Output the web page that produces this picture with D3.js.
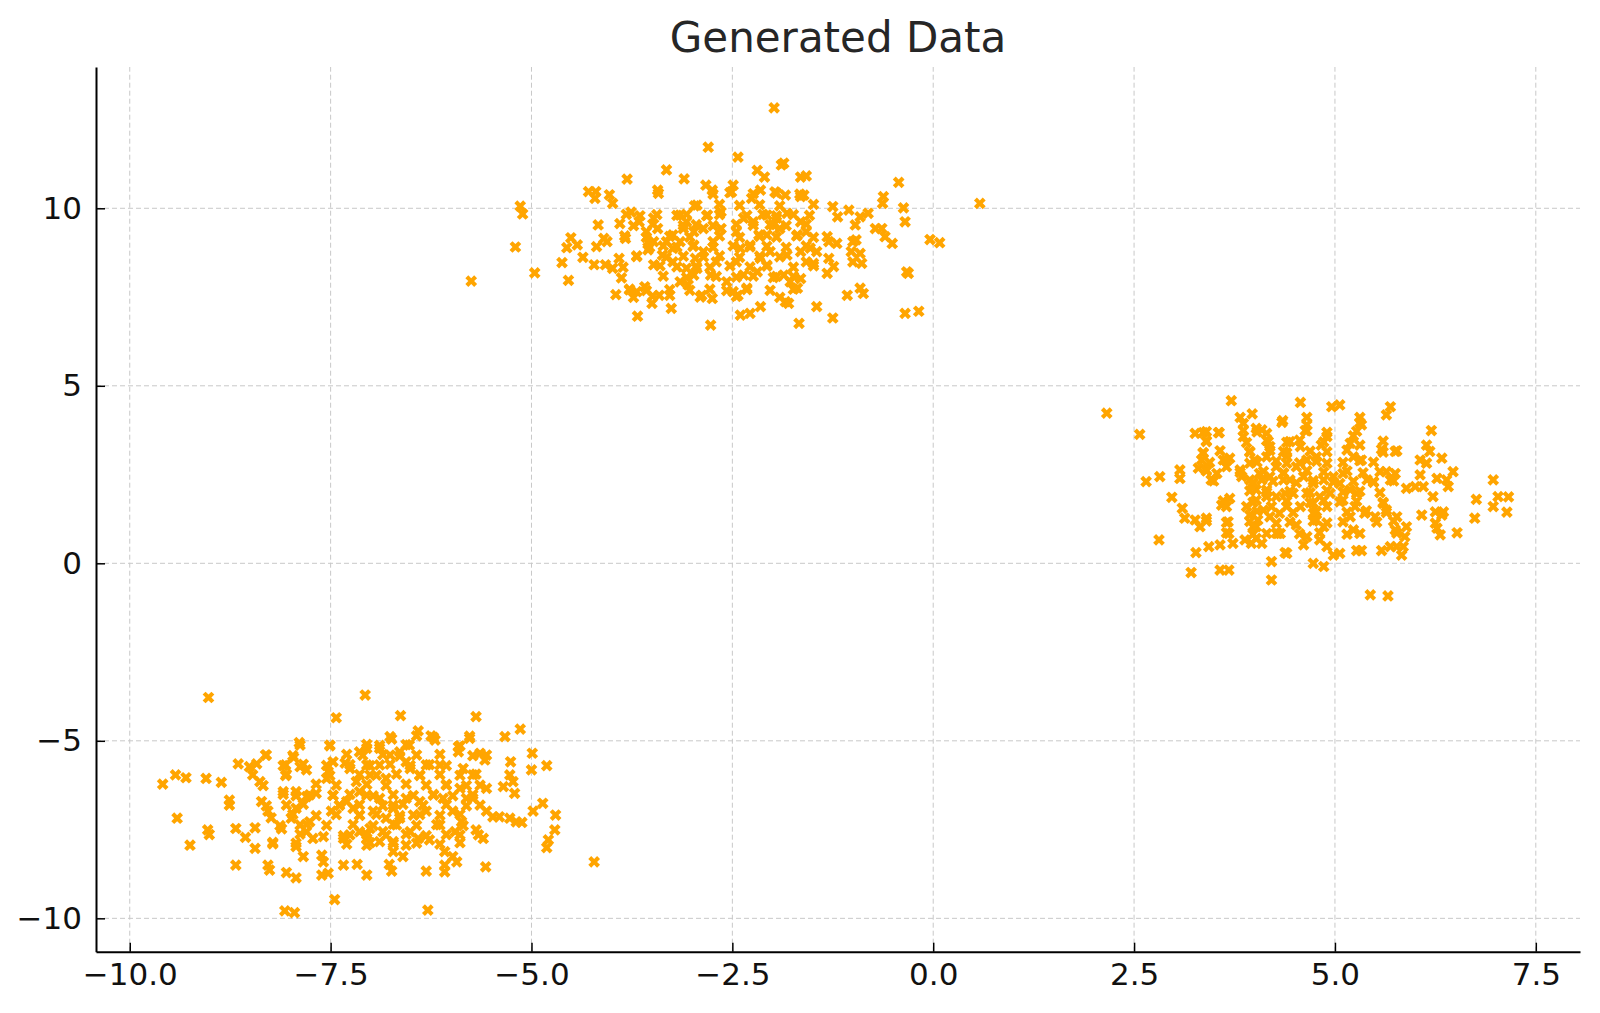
<!DOCTYPE html>
<html>
<head>
<meta charset="utf-8">
<script src="https://cdn.jsdelivr.net/npm/d3@7"></script>
<style>
  body { margin: 0; background: #fff; }
  text { font-family: 'DejaVu Sans', sans-serif; }
</style>
</head>
<body>
<svg id="chart"></svg>
<script>
// points, one list per blob: [x, y]
const clusterTop = [
  [-5.75,7.95],[-5.20,8.91],[-5.14,10.06],[-5.11,9.84],[-4.96,8.18],[-4.62,8.47],[-4.54,7.97],[-4.56,8.89],[-4.51,9.17],[-4.43,8.97],
  [-4.36,8.62],[-4.29,10.47],[-4.20,10.47],[-4.21,10.28],[-4.03,10.38],[-3.99,10.14],[-3.81,10.82],[-3.43,10.51],[-3.32,11.08],[-3.10,10.83],
  [-4.17,9.53],[-4.19,8.92],[-4.10,9.15],[-4.06,9.06],[-4.22,8.41],[-4.08,8.41],[-3.99,8.31],[-3.91,8.59],[-3.88,8.04],[-3.95,7.57],
  [-3.83,9.15],[-3.90,9.57],[-3.76,9.89],[-3.66,9.62],[-3.78,7.70],[-3.69,7.65],[-3.59,7.79],[-3.50,7.32],[-3.69,8.64],[-3.55,8.83],
  [-3.48,8.41],[-3.68,6.96],[-3.48,9.72],[-3.43,9.43],[-3.57,9.34],[-3.41,7.55],[-3.28,7.55],[-3.26,7.18],[-3.32,9.06],[-3.24,8.87],
  [-3.15,9.06],[-3.24,8.49],[-3.37,8.68],[-3.15,9.81],[-3.07,9.62],[-2.98,9.34],[-2.94,10.09],[-3.15,7.93],[-3.05,7.84],[-3.07,8.31],
  [-2.96,8.59],[-2.88,7.55],[-2.83,10.65],[-2.80,11.72],[-3.48,9.06],[-3.24,9.25],[-2.98,8.96],[-2.94,8.31],[-2.98,8.12],[-2.86,8.78],
  [-2.86,9.43],[-3.11,9.43],[-3.55,9.06],
  [-1.98,12.83],[-2.43,11.44],[-1.89,11.22],[-1.86,11.27],[-2.19,11.07],[-2.10,10.88],[-1.65,10.88],[-1.58,10.91],[-2.75,10.51],[-2.49,10.65],
  [-2.51,10.46],[-2.15,10.51],[-1.97,10.46],[-1.84,10.37],[-1.65,10.33],[-1.61,10.37],[-2.26,10.28],[-0.43,10.73],[-0.62,10.33],[-0.63,10.14],
  [-0.37,10.01],[-0.35,9.62],[-0.04,9.12],[0.08,9.03],[-1.05,9.95],[-0.91,9.76],[-0.81,9.86],[-0.97,9.53],[-0.72,9.43],[-0.64,9.43],
  [-0.60,9.20],[-0.51,9.01],[-1.25,10.05],[-1.19,9.76],[-1.00,9.06],[-0.96,9.11],[-1.02,8.78],[-0.91,8.73],[-1.00,8.49],[-0.89,8.45],
  [-1.32,9.20],[-1.20,9.01],[-1.30,9.06],[-1.30,8.59],[-1.24,8.36],[-1.32,8.17],[-0.33,8.21],[-0.31,8.17],[-1.07,7.55],[-0.87,7.60],
  [-0.91,7.75],[-0.35,7.04],[-0.18,7.10],[-1.25,6.91],[-1.45,7.23],[-1.67,6.76],[-1.84,7.37],[-1.80,7.32],[-2.40,6.99],[-2.28,7.04],
  [-2.15,7.23],[-2.77,6.71],[-2.75,7.46],[-2.43,7.55],[-1.49,8.45],[-1.58,8.49],[-1.45,8.78],[-1.78,7.93],[-1.65,8.02],[-1.69,7.75],
  [-1.95,8.08],[-1.86,8.12],[-1.82,8.68],[-1.65,8.78],[-1.53,8.88],[-1.69,9.25],[-1.58,9.34],[-1.65,9.62],[-1.91,9.43],[-1.95,9.72],
  [-1.82,9.86],[-2.24,9.62],[-2.17,9.25],[-2.28,8.96],[-2.15,8.59],[-2.19,8.21],[-2.36,8.12],[-2.45,8.49],[-2.40,8.87],[-2.45,9.34],
  [-2.36,9.72],[-2.64,9.43],[-2.74,9.06],[-2.70,8.49],[-2.77,8.12],[-2.57,7.93],[-2.49,7.65],[-2.07,9.25],[-2.03,8.78],[-2.07,8.40],
  [-2.32,7.75],[-2.64,9.90],[-2.81,9.81],[-2.07,9.81],[-1.99,9.53],[0.58,10.14]
];

// the solid middle of the top blob
const clusterTopCore = [
  [-3.42,10.42],[-2.74,10.40],[-2.53,10.44],[-2.24,10.41],[-1.95,10.43],[-1.66,10.40],
  [-2.97,10.07],[-2.66,10.11],[-2.41,10.08],[-2.16,10.10],[-1.91,10.07],[-1.49,10.11],
  [-3.82,9.83],[-3.65,9.79],[-3.44,9.82],[-3.19,9.80],[-3.07,9.83],[-2.82,9.79],[-2.66,9.82],[-2.32,9.80],[-2.12,9.83],[-1.95,9.79],[-1.74,9.82],[-1.54,9.80],
  [-3.73,9.51],[-3.49,9.55],[-3.11,9.52],[-2.95,9.54],[-2.74,9.51],[-2.45,9.55],[-2.24,9.52],[-2.03,9.54],[-1.83,9.51],[-1.58,9.55],
  [-3.84,9.22],[-3.57,9.18],[-3.28,9.21],[-3.03,9.19],[-2.66,9.22],[-2.41,9.18],[-2.16,9.21],[-1.95,9.19],[-1.70,9.22],[-1.49,9.18],
  [-3.53,8.90],[-3.36,8.94],[-3.19,8.91],[-2.99,8.93],[-2.74,8.90],[-2.49,8.94],[-2.28,8.91],[-2.07,8.93],[-1.83,8.90],[-1.58,8.94],
  [-3.69,8.66],[-3.32,8.62],[-3.11,8.65],[-2.86,8.63],[-2.66,8.66],[-2.41,8.62],[-2.16,8.65],[-1.91,8.63],
  [-3.86,8.34],[-3.40,8.38],[-3.19,8.35],[-2.95,8.37],[-2.78,8.34],[-2.53,8.38],[-2.28,8.35],[-2.07,8.37],[-1.74,8.34],[-1.49,8.38],
  [-3.36,8.09],[-3.07,8.05],[-2.70,8.08],[-2.45,8.06],[-2.24,8.09],[-1.99,8.05],[-1.74,8.08],
  [-3.78,7.72],[-3.57,7.68],[-3.28,7.71],[-3.03,7.69],[-2.78,7.72],[-2.57,7.68],[-2.32,7.71],[-2.03,7.69],[-1.74,7.72],
  [-3.73,7.49],[-3.49,7.53],[-2.90,7.50],[-2.45,7.52],[-1.91,7.49]
];

const clusterRight = [
  [2.16,4.23],[2.57,3.63],[2.65,2.30],[2.82,2.44],[2.81,0.66],[2.97,1.86],[3.07,2.63],[3.07,2.39],[3.10,1.55],[3.13,1.27],
  [3.21,-0.26],[3.27,0.30],[3.26,3.66],[3.36,3.68],[3.40,3.43],[3.36,3.10],[3.34,2.91],[3.30,2.68],[3.40,2.63],[3.46,2.35],
  [3.53,2.53],[3.26,1.22],[3.32,1.03],[3.40,1.27],[3.43,0.47],[3.57,0.52],[3.56,3.68],[3.57,-0.19],[3.68,-0.19],[3.61,2.91],
  [3.69,2.96],[3.65,2.72],[3.59,1.64],[3.69,1.83],[3.65,1.60],[3.67,1.17],[3.68,0.84],[3.73,0.56],[3.71,4.58],[3.82,4.11],
  [3.97,4.21],[3.86,3.57],[3.82,2.63],[3.84,2.44],[3.94,3.15],[4.00,2.91],[3.94,2.82],[4.02,3.80],[4.09,3.76],[4.17,3.43],
  [4.19,3.29],[4.15,3.00],[3.88,0.66],[3.96,0.56],[4.02,0.70],[4.09,0.56],[3.90,1.60],[3.94,1.36],[3.98,1.03],[4.04,1.22],
  [4.02,2.07],[4.09,2.35],[4.15,1.88],[4.11,1.50],[4.21,1.60],[4.21,0.05],[4.21,-0.47],[4.29,0.84],[4.35,4.02],[4.36,3.15],
  [4.40,2.82],[4.36,2.35],[4.38,1.97],[4.38,0.30],[3.94,2.35],[4.06,2.53],[4.19,2.44],[4.27,2.72],[4.36,2.53],[4.02,1.78],
  [4.15,2.07],[4.27,1.88],[4.19,1.31],[4.31,1.41],[4.02,1.03],[4.15,0.84],[4.27,1.13],[3.98,2.25],
  [4.57,4.53],[4.96,4.41],[5.06,4.46],[4.65,4.11],[4.63,3.74],[5.69,4.41],[5.64,4.18],[5.31,4.11],[5.33,3.90],[5.23,3.59],
  [6.20,3.74],[5.31,3.33],[4.90,3.57],[4.83,3.33],[4.44,3.43],[4.57,3.29],[5.58,3.21],[5.75,3.15],[6.14,3.33],[6.18,3.15],
  [6.33,2.96],[6.06,2.91],[6.14,2.82],[5.33,2.91],[5.23,3.00],[6.47,2.58],[6.06,2.49],[6.27,2.39],[6.39,2.35],[6.97,2.35],
  [5.56,2.58],[5.75,2.53],[5.69,2.35],[5.40,2.35],[5.48,2.30],[5.89,2.11],[6.00,2.16],[6.10,2.16],[6.41,2.16],[6.22,1.88],
  [6.76,1.80],[6.97,1.60],[7.03,1.88],[6.74,1.27],[6.08,1.36],[6.25,1.45],[6.35,1.45],[6.33,1.36],[6.25,1.13],[6.27,0.99],
  [6.31,0.80],[6.52,0.86],[5.37,1.41],[5.50,1.31],[5.60,1.69],[5.64,1.50],[5.77,1.31],[5.75,0.94],[5.89,1.03],[5.87,0.75],
  [5.77,0.47],[5.85,0.47],[5.83,0.23],[5.58,0.36],[5.69,0.47],[5.27,0.36],[5.33,0.36],[5.23,0.94],[5.31,0.84],[5.19,1.31],
  [5.25,1.60],[5.06,0.28],[4.98,0.23],[4.40,0.28],[4.73,0.00],[4.86,-0.09],[4.61,0.52],[4.65,0.75],[4.81,0.66],[4.90,0.47],
  [5.44,-0.89],[5.66,-0.92],[4.52,1.08],[4.32,0.84],[4.77,1.22],[4.86,1.03],[4.73,1.41],
  [4.40,3.00],[4.52,2.72],[4.65,2.91],[4.77,3.00],[4.90,2.82],[4.44,2.35],[4.61,2.44],[4.73,2.25],[4.86,2.35],[4.98,2.44],
  [4.48,1.97],[4.65,1.97],[4.81,1.88],[4.94,1.97],[4.40,1.60],[4.57,1.60],[4.73,1.69],[4.90,1.60],[5.10,2.53],[5.19,2.07],
  [5.10,1.78],[5.27,1.97],[5.06,2.25],[7.16,1.87],[7.14,1.44]
];

const clusterRightCore = [
  [3.86,3.94],[4.34,3.97],[4.65,3.90],[5.31,3.96],
  [3.40,3.71],[3.55,3.68],[3.86,3.74],[4.03,3.70],[4.15,3.66],[4.65,3.73],[4.90,3.69],[5.27,3.72],
  [3.40,3.45],[3.90,3.40],[4.15,3.46],[4.40,3.41],[4.56,3.47],[4.86,3.42],[5.19,3.38],[5.60,3.44],
  [3.36,3.12],[3.57,3.17],[3.94,3.13],[4.19,3.18],[4.40,3.11],[4.69,3.16],[4.90,3.14],[5.15,3.19],[5.60,3.13],[5.77,3.17],
  [3.44,2.84],[3.65,2.89],[4.03,2.85],[4.27,2.88],[4.56,2.83],[4.77,2.87],[5.10,2.84],[5.31,2.89],[5.48,2.85],
  [3.40,2.60],[3.82,2.56],[4.11,2.59],[4.36,2.55],[4.65,2.61],[4.86,2.57],[5.15,2.60],[5.35,2.55],[5.64,2.58],
  [3.49,2.32],[3.98,2.28],[4.23,2.31],[4.52,2.27],[4.73,2.33],[4.98,2.29],[5.23,2.31],[5.48,2.28],[5.73,2.32],
  [3.94,2.04],[4.15,2.00],[4.44,2.03],[4.69,1.99],[4.90,2.05],[5.10,2.01],[5.31,2.03],[5.56,1.99],
  [3.61,1.76],[3.98,1.72],[4.40,1.75],[4.69,1.71],[4.86,1.77],[5.06,1.73],[5.27,1.75],[5.60,1.72],
  [4.03,1.47],[4.48,1.43],[4.77,1.46],[5.15,1.44],[5.39,1.48],[5.64,1.43],
  [3.40,1.19],[3.65,1.15],[3.94,1.18],[4.44,1.16],[4.73,1.19],[4.90,1.14],[5.10,1.17],[5.52,1.16],[5.73,1.19],
  [3.65,0.86],[3.98,0.82],[4.27,0.85],[4.56,0.83],[4.81,0.86],[5.15,0.82],[5.77,0.85]
];

const clusterLeft = [
  [-9.02,-3.78],[-7.07,-3.71],[-7.43,-4.35],[-7.89,-5.05],[-7.51,-5.12],[-8.65,-5.65],[-8.51,-5.73],[-8.42,-5.65],[-8.31,-5.40],[-8.47,-5.96],
  [-8.38,-6.15],[-9.59,-6.22],[-9.43,-5.96],[-9.30,-6.04],[-9.05,-6.06],[-8.86,-6.17],[-8.76,-6.67],[-8.76,-6.81],[-9.41,-7.18],[-9.25,-7.94],
  [-9.03,-7.51],[-9.01,-7.64],[-8.68,-7.47],[-8.56,-7.72],[-8.44,-7.45],[-8.44,-8.03],[-8.68,-8.50],[-8.36,-6.71],[-8.28,-6.98],[-8.24,-7.17],
  [-8.22,-7.86],[-8.28,-8.50],[-8.26,-8.64],[-8.05,-8.71],[-7.93,-8.86],[-8.11,-7.48],[-7.93,-7.98],[-7.84,-8.26],[-7.61,-8.22],[-7.59,-8.41],
  [-7.61,-8.78],[-7.53,-8.73],[-7.45,-9.47],[-7.96,-5.47],[-8.06,-5.68],[-8.06,-5.98],[-7.88,-5.73],[-7.80,-5.82],[-8.09,-6.43],[-7.93,-6.43],
  [-7.80,-6.57],[-7.68,-6.48],[-8.05,-6.81],[-7.93,-6.90],[-7.99,-7.18],[-7.88,-7.37],[-7.76,-7.28],[-7.80,-7.56],[-7.72,-7.75],[-7.59,-7.70],
  [-7.53,-5.87],[-7.47,-5.59],[-7.55,-6.06],[-7.32,-5.63],[-7.26,-5.78],[-7.18,-6.15],[-7.47,-6.53],[-7.39,-6.81],[-7.49,-6.98],[-7.30,-6.71],
  [-7.22,-6.90],[-7.14,-7.09],[-7.34,-7.75],[-7.26,-7.65],[-7.14,-7.56],[-7.05,-7.75],[-7.34,-8.50],[-7.17,-8.48],[-7.14,-5.31],[-7.05,-5.21],
  [-7.05,-5.68],[-7.14,-6.43],[-7.05,-6.53],[-7.05,-8.78],
  [-6.63,-4.29],[-5.69,-4.32],[-6.41,-4.72],[-6.25,-4.86],[-6.20,-4.98],[-6.74,-4.95],[-6.52,-5.12],[-5.91,-5.17],[-5.91,-5.31],[-5.77,-4.93],
  [-5.33,-4.88],[-5.14,-4.67],[-5.64,-5.35],[-5.56,-5.40],[-5.58,-5.54],[-5.26,-5.59],[-4.99,-5.35],[-5.00,-5.82],[-4.81,-5.70],[-5.85,-5.78],
  [-5.73,-5.96],[-5.27,-5.96],[-5.23,-6.15],[-5.35,-6.29],[-5.21,-6.48],[-5.64,-6.25],[-5.56,-6.34],[-4.86,-6.76],[-4.98,-6.98],[-4.70,-7.09],
  [-4.71,-7.51],[-4.79,-7.79],[-4.81,-8.01],[-4.22,-8.41],[-5.19,-7.28],[-5.12,-7.30],[-5.27,-7.18],[-5.40,-7.14],[-5.48,-7.14],[-5.69,-7.51],
  [-5.60,-7.75],[-5.66,-7.65],[-5.56,-6.98],[-5.64,-6.81],[-5.73,-6.62],[-5.87,-7.28],[-5.95,-7.56],[-5.89,-7.65],[-5.98,-6.98],[-6.08,-8.12],
  [-5.98,-8.26],[-5.93,-8.41],[-6.08,-8.50],[-6.08,-8.69],[-5.57,-8.55],[-6.31,-8.67],[-6.77,-8.48],[-6.74,-8.67],[-6.60,-8.26],[-6.72,-8.12],
  [-6.41,-7.75],[-6.27,-7.79],[-6.14,-7.37],[-6.10,-6.62],[-6.06,-6.25],[-5.89,-6.34],[-5.81,-6.62],[-6.14,-5.68],[-6.31,-5.68],[-6.39,-5.96],
  [-6.51,-5.78],[-6.89,-5.21],[-6.76,-5.40],[-6.64,-5.31],[-6.56,-5.59],[-6.89,-5.68],[-7.01,-5.96],[-6.81,-6.06],
  [-6.89,-6.62],[-6.72,-6.81],[-6.56,-6.62],[-6.39,-6.71],[-6.22,-6.53],[-6.97,-6.98],[-6.81,-7.18],[-6.64,-7.18],[-6.47,-7.09],[-6.31,-6.98],
  [-7.01,-7.47],[-6.85,-7.56],[-6.68,-7.37],[-6.51,-7.56],[-7.05,-7.94],[-6.89,-7.84],[-6.72,-7.84],[-6.56,-7.94],[-6.72,-6.90],
  [-6.29,-9.77],[-8.07,-9.79],[-7.95,-9.84]
];

const clusterLeftCore = [
  [-6.76,-4.88],[-6.43,-4.86],[-6.22,-4.90],[-5.77,-4.87],
  [-7.88,-5.12],[-7.51,-5.14],[-7.05,-5.10],[-6.89,-5.13],[-6.56,-5.11],[-5.89,-5.14],
  [-8.30,-5.40],[-7.97,-5.42],[-7.30,-5.38],[-7.10,-5.41],[-6.85,-5.39],[-6.64,-5.43],[-6.43,-5.40],[-6.14,-5.38],[-5.73,-5.42],
  [-8.09,-5.70],[-7.84,-5.66],[-7.55,-5.69],[-7.26,-5.67],[-7.01,-5.70],[-6.76,-5.66],[-6.51,-5.69],[-6.27,-5.67],[-6.06,-5.70],
  [-8.05,-5.94],[-7.51,-5.98],[-7.14,-5.95],[-6.93,-5.97],[-6.68,-5.94],[-6.39,-5.98],[-6.14,-5.95],[-5.89,-5.97],[-5.69,-5.94],
  [-8.34,-6.26],[-7.68,-6.22],[-7.43,-6.25],[-7.05,-6.23],[-6.81,-6.26],[-6.56,-6.22],[-6.31,-6.25],[-6.06,-6.23],[-5.81,-6.26],
  [-8.09,-6.51],[-7.93,-6.55],[-7.76,-6.52],[-7.47,-6.54],[-7.26,-6.51],[-6.97,-6.55],[-6.72,-6.52],[-6.47,-6.54],[-6.22,-6.51],[-5.98,-6.55],[-5.73,-6.52],
  [-8.30,-6.83],[-7.84,-6.79],[-7.39,-6.82],[-7.14,-6.80],[-6.85,-6.83],[-6.60,-6.79],[-6.35,-6.82],[-6.06,-6.80],[-5.81,-6.83],
  [-7.97,-7.07],[-7.68,-7.11],[-7.43,-7.08],[-7.14,-7.10],[-6.93,-7.07],[-6.64,-7.11],[-6.39,-7.08],[-6.14,-7.10],[-5.89,-7.07],
  [-8.13,-7.39],[-7.80,-7.35],[-7.55,-7.38],[-7.22,-7.36],[-6.97,-7.39],[-6.72,-7.35],[-6.43,-7.38],[-6.18,-7.36],[-5.85,-7.39],
  [-7.88,-7.63],[-7.34,-7.67],[-7.05,-7.64],[-6.81,-7.66],[-6.56,-7.63],[-6.31,-7.67],[-6.06,-7.64],
  [-8.22,-7.90],[-7.93,-7.88],[-7.30,-7.91],[-7.01,-7.87],[-6.72,-7.90],[-6.43,-7.88],[-6.14,-7.91],[-5.89,-7.87]
];

const xTicks = [-10, -7.5, -5, -2.5, 0, 2.5, 5, 7.5];
const yTicks = [-10, -5, 0, 5, 10];
const chartTitle = 'Generated Data';

const width = 1600;
const height = 1013;
const plotLeft = 96;
const plotRight = 1580;
const plotTop = 67;
const plotBottom = 951.7;

let xScale;
let yScale;
const svg = d3.select('#chart');

const drawCanvas = () => {
  svg.attr('width', width).attr('height', height);
  svg.append('rect').attr('width', width).attr('height', height).attr('fill', '#fff');
};

const generateScales = () => {
  xScale = d3.scaleLinear().domain([-10.42, 8.05]).range([plotLeft, plotRight]);
  yScale = d3.scaleLinear().domain([-10.94, 13.98]).range([plotBottom, plotTop]);
};

const drawGrid = () => {
  const grid = svg.append('g').attr('id', 'grid')
    .attr('stroke', '#c8c8c8').attr('stroke-width', 1).attr('stroke-dasharray', '5,3');
  grid.selectAll('.vx').data(xTicks).enter().append('line')
    .attr('x1', (d) => xScale(d)).attr('x2', (d) => xScale(d))
    .attr('y1', plotBottom).attr('y2', plotTop);
  grid.selectAll('.hy').data(yTicks).enter().append('line')
    .attr('y1', (d) => yScale(d)).attr('y2', (d) => yScale(d))
    .attr('x1', plotLeft).attr('x2', plotRight);
};

const drawPoints = () => {
  const all = clusterTop.concat(clusterTopCore, clusterRight, clusterRightCore, clusterLeft, clusterLeftCore);
  const marker = d3.symbol().type(d3.symbolCross).size(86);
  svg.append('g').attr('id', 'points')
    .selectAll('path')
    .data(all)
    .enter()
    .append('path')
    .attr('d', marker)
    .attr('fill', '#ffa500')
    .attr('transform', (d) => 'translate(' + xScale(d[0]) + ',' + yScale(d[1]) + ') rotate(45)');
};

const generateAxis = () => {
  const xAxis = d3.axisBottom(xScale).tickValues(xTicks).tickFormat(d3.format('.1f'))
    .tickSizeInner(-9).tickSizeOuter(0).tickPadding(11);
  const yAxis = d3.axisLeft(yScale).tickValues(yTicks).tickFormat(d3.format('d'))
    .tickSizeInner(-9).tickSizeOuter(0).tickPadding(14);

  const gx = svg.append('g').attr('id', 'x-axis')
    .attr('transform', 'translate(0,' + plotBottom + ')').call(xAxis);
  const gy = svg.append('g').attr('id', 'y-axis')
    .attr('transform', 'translate(' + plotLeft + ',0)').call(yAxis);

  [gx, gy].forEach((g) => {
    g.select('.domain').attr('stroke', '#000').attr('stroke-width', 2);
    g.selectAll('.tick line').attr('stroke', '#000').attr('stroke-width', 1.5);
    g.selectAll('.tick text').attr('fill', '#111').style('font-size', '31px')
      .style('font-family', "'DejaVu Sans', sans-serif");
  });
};

const infoText = () => {
  svg.append('text')
    .attr('id', 'title')
    .attr('x', (plotLeft + plotRight) / 2)
    .attr('y', 52)
    .attr('text-anchor', 'middle')
    .attr('fill', '#262626')
    .style('font-size', '42px')
    .text(chartTitle);
};

drawCanvas();
generateScales();
drawGrid();
drawPoints();
generateAxis();
infoText();
</script>
</body>
</html>
